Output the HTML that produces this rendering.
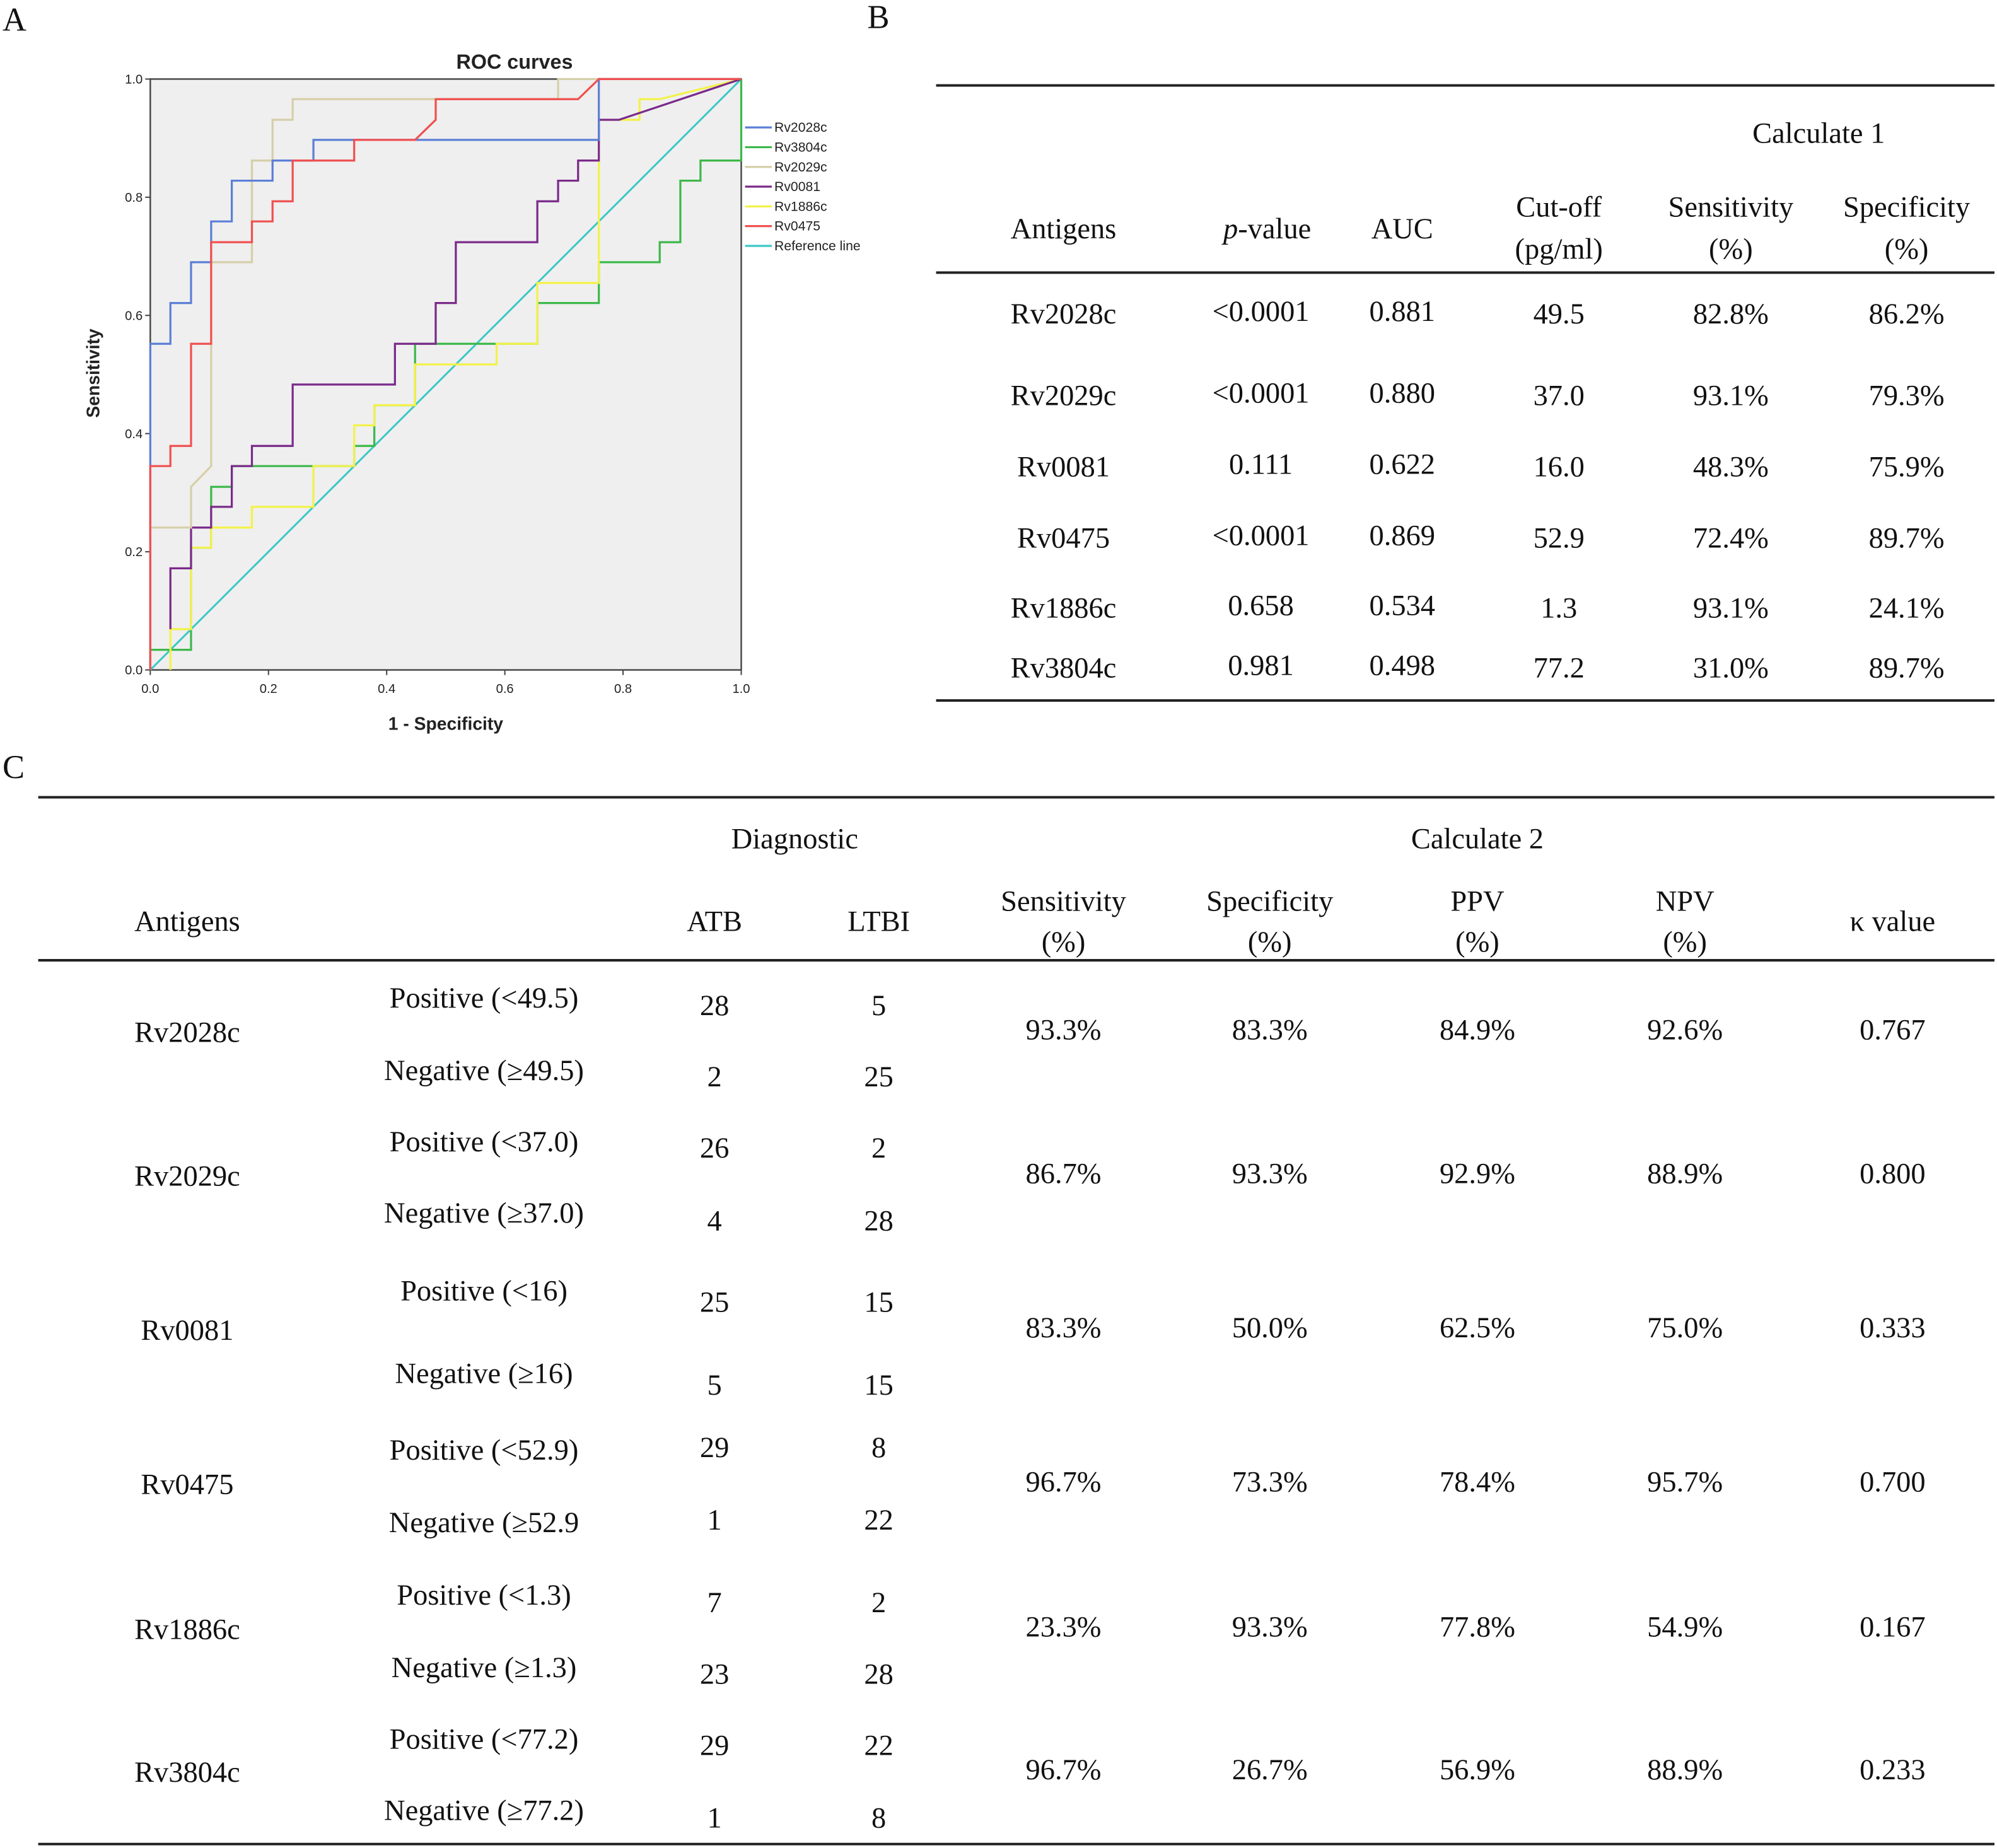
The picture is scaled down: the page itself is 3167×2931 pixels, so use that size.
<!DOCTYPE html>
<html><head><meta charset="utf-8">
<style>
html,body{margin:0;padding:0;background:#fff;}
svg{display:block;}
.t{font-family:"Liberation Serif",serif;font-size:23px;fill:#111;}
.s{font-family:"Liberation Sans",sans-serif;fill:#222;}
</style></head>
<body>
<svg id="fig" width="3167" height="2931" viewBox="0 0 1568 1451" xmlns="http://www.w3.org/2000/svg">
<rect width="1568" height="1451" fill="#fff"/>
<text class="t" x="2" y="24" style="font-size:26px">A</text>
<text class="t" x="681" y="22" style="font-size:26px">B</text>
<text class="t" x="2" y="611" style="font-size:26px">C</text>
<g id="chart"></g>
<g id="tables"></g>
</svg>
<script>
const seriesNames=["Rv2028c","Rv3804c","Rv2029c","Rv0081","Rv1886c","Rv0475"];
const seriesColors=["#5b7fd6","#3cb84a","#d6cfa8","#7a2a8a","#f2f24a","#f05050"];
const rv2028cX=[0,0,0.034,0.034,0.069,0.069,0.103,0.103,0.138,0.138,0.207,0.207,0.276,0.276,0.759,0.759,1];
const rv2028cY=[0,0.552,0.552,0.621,0.621,0.690,0.690,0.759,0.759,0.828,0.828,0.862,0.862,0.897,0.897,1,1];
const rv3804cX=[0,0,0.069,0.069,0.103,0.103,0.138,0.138,0.345,0.345,0.379,0.379,0.448,0.448,0.655,0.655,0.759,0.759,0.862,0.862,0.897,0.897,0.931,0.931,1,1];
const rv3804cY=[0,0.034,0.034,0.207,0.207,0.310,0.310,0.345,0.345,0.379,0.379,0.448,0.448,0.552,0.552,0.621,0.621,0.690,0.690,0.724,0.724,0.828,0.828,0.862,0.862,1];
const rv2029cX=[0,0.069,0.069,0.103,0.103,0.172,0.172,0.207,0.207,0.241,0.241,0.690,0.690,1];
const rv2029cY=[0.241,0.241,0.310,0.345,0.690,0.690,0.862,0.862,0.931,0.931,0.966,0.966,1,1];
const rv0081X=[0.034,0.034,0.069,0.069,0.103,0.103,0.138,0.138,0.172,0.172,0.241,0.241,0.414,0.414,0.483,0.483,0.517,0.517,0.655,0.655,0.690,0.690,0.724,0.724,0.759,0.759,0.793,1];
const rv0081Y=[0.069,0.172,0.172,0.241,0.241,0.276,0.276,0.345,0.345,0.379,0.379,0.483,0.483,0.552,0.552,0.621,0.621,0.724,0.724,0.793,0.793,0.828,0.828,0.862,0.862,0.931,0.931,1];
const rv1886cX=[0.034,0.034,0.069,0.069,0.103,0.103,0.172,0.172,0.276,0.276,0.345,0.345,0.379,0.379,0.448,0.448,0.586,0.586,0.655,0.655,0.759,0.759,0.828,0.828,0.862,1];
const rv1886cY=[0,0.069,0.069,0.207,0.207,0.241,0.241,0.276,0.276,0.345,0.345,0.414,0.414,0.448,0.448,0.517,0.517,0.552,0.552,0.655,0.655,0.931,0.931,0.966,0.966,1];
const rv0475X=[0,0,0.034,0.034,0.069,0.069,0.103,0.103,0.172,0.172,0.207,0.207,0.241,0.241,0.345,0.345,0.448,0.483,0.483,0.724,0.759,1];
const rv0475Y=[0,0.345,0.345,0.379,0.379,0.552,0.552,0.724,0.724,0.759,0.759,0.793,0.793,0.862,0.862,0.897,0.897,0.931,0.966,0.966,1,1];
const tickValues=[0,0.2,0.4,0.6,0.8,1.0];
const tickLabels=["0.0","0.2","0.4","0.6","0.8","1.0"];
const NS="http://www.w3.org/2000/svg";
const X0=118,X1=582,Y0=526,Y1=62;
const sx=v=>X0+v*(X1-X0), sy=v=>Y0-v*(Y0-Y1);
const chart=document.getElementById('chart');
function mk(tag,attrs,parent){const e=document.createElementNS(NS,tag);for(const k in attrs)e.setAttribute(k,attrs[k]);parent.appendChild(e);return e;}
let bg=mk('rect',{x:X0,y:Y1,width:X1-X0,height:Y0-Y1,fill:'#efefef',stroke:'#444','stroke-width':1.2},chart);


let title=mk('text',{x:404,y:54,'text-anchor':'middle',class:'s','font-size':16,'font-weight':'bold'},chart);title.textContent='ROC curves';


tickValues.forEach((v,i)=>{
 mk('line',{x1:X0-4,x2:X0,y1:sy(v),y2:sy(v),stroke:'#444'},chart);
 mk('line',{x1:sx(v),x2:sx(v),y1:Y0,y2:Y0+4,stroke:'#444'},chart);
 let t=mk('text',{x:X0-6,y:sy(v)+3.5,'text-anchor':'end',class:'s','font-size':10},chart);t.textContent=tickLabels[i];
 
 
 let u=mk('text',{x:sx(v),y:Y0+18,'text-anchor':'middle',class:'s','font-size':10},chart);u.textContent=tickLabels[i];
 
 
});
let xt=mk('text',{x:350,y:573,'text-anchor':'middle',class:'s','font-size':14,'font-weight':'bold'},chart);xt.textContent='1 - Specificity';


let yt=mk('text',{x:78,y:293,'text-anchor':'middle',class:'s','font-size':14,'font-weight':'bold',transform:'rotate(-90 78 293)'},chart);yt.textContent='Sensitivity';


let ref=mk('line',{x1:sx(0),y1:sy(0),x2:sx(1),y2:sy(1),stroke:'#3cc8c8','stroke-width':1.5},chart);


const allX=[rv2028cX,rv3804cX,rv2029cX,rv0081X,rv1886cX,rv0475X];
const allY=[rv2028cY,rv3804cY,rv2029cY,rv0081Y,rv1886cY,rv0475Y];
const drawOrder=[1,4,3,2,0,5];
drawOrder.forEach(i=>{
 const pts=allX[i].map((x,j)=>sx(x).toFixed(1)+','+sy(allY[i][j]).toFixed(1)).join(' ');
 let p=mk('polyline',{points:pts,fill:'none',stroke:seriesColors[i],'stroke-width':1.6},chart);
 
 
});
const legNames=seriesNames.concat(['Reference line']);
const legColors=seriesColors.concat(['#3cc8c8']);
legNames.forEach((n,i)=>{
 const y=100+i*15.5;
 mk('line',{x1:585,x2:606,y1:y,y2:y,stroke:legColors[i],'stroke-width':1.6},chart);
 let t=mk('text',{x:608,y:y+3.5,class:'s','font-size':10.5},chart);t.textContent=n;
 
 
});
// tables
const tb=document.getElementById('tables');
function txt(s,x,y,name,italicPrefix){
 let t=mk('text',{x:x,y:y,'text-anchor':'middle',class:'t'},tb);
 if(italicPrefix){let a=mk('tspan',{'font-style':'italic'},t);a.textContent=italicPrefix;let b=mk('tspan',{},t);b.textContent=s;}
 else t.textContent=s;
 
 
 return t;
}
function rule(x1,x2,y,w){let l=mk('line',{x1:x1,x2:x2,y1:y,y2:y,stroke:'#222','stroke-width':w||2},tb);
 
 }
// Table B
rule(735,1566,67);rule(735,1566,214);rule(735,1566,550);
txt('Calculate 1',1428,112,'calculate-1-header');
const bCols=[835,990,1101,1224,1359,1497];
txt('Antigens',835,187,'col-antigens');
txt('-value',995,187,'col-p-value','p');
txt('AUC',1101,187,'col-auc');
txt('Cut-off',1224,170,'col-cutoff');txt('(pg/ml)',1224,203,'col-cutoff-unit');
txt('Sensitivity',1359,170,'col-sensitivity');txt('(%)',1359,203,'col-sensitivity-unit');
txt('Specificity',1497,170,'col-specificity');txt('(%)',1497,203,'col-specificity-unit');
const bRows=[["Rv2028c","<0.0001","0.881","49.5","82.8%","86.2%"],["Rv2029c","<0.0001","0.880","37.0","93.1%","79.3%"],["Rv0081","0.111","0.622","16.0","48.3%","75.9%"],["Rv0475","<0.0001","0.869","52.9","72.4%","89.7%"],["Rv1886c","0.658","0.534","1.3","93.1%","24.1%"],["Rv3804c","0.981","0.498","77.2","31.0%","89.7%"]];
const bY=[254,318,374,430,485,532];
const bYoff=[0,-2,0,-2,0,0];
bRows.forEach((r,i)=>r.forEach((c,j)=>txt(c,bCols[j],bY[i]+((j==1||j==2)?-2:0),'table-b-cell')));
// Table C
rule(30,1566,626);rule(30,1566,754);rule(30,1566,1448);
txt('Diagnostic',624,666,'diagnostic-header');
txt('Calculate 2',1160,666,'calculate-2-header');
txt('Antigens',147,731,'col-antigens-c');
txt('ATB',561,731,'col-atb');txt('LTBI',690,731,'col-ltbi');
[['Sensitivity',835],['Specificity',997],['PPV',1160],['NPV',1323]].forEach(a=>{txt(a[0],a[1],715,'col-'+a[0].toLowerCase());txt('(%)',a[1],747,'col-unit');});
txt('κ value',1486,731,'col-kappa');
const cNames=["Rv2028c","Rv2029c","Rv0081","Rv0475","Rv1886c","Rv3804c"];
const cPos=["Positive (<49.5)","Positive (<37.0)","Positive (<16)","Positive (<52.9)","Positive (<1.3)","Positive (<77.2)"];
const cNeg=["Negative (≥49.5)","Negative (≥37.0)","Negative (≥16)","Negative (≥52.9","Negative (≥1.3)","Negative (≥77.2)"];
const cATB=[[28,2],[26,4],[25,5],[29,1],[7,23],[29,1]];
const cLTBI=[[5,25],[2,28],[15,15],[8,22],[2,28],[22,8]];
const cStats=[["93.3%","83.3%","84.9%","92.6%","0.767"],["86.7%","93.3%","92.9%","88.9%","0.800"],["83.3%","50.0%","62.5%","75.0%","0.333"],["96.7%","73.3%","78.4%","95.7%","0.700"],["23.3%","93.3%","77.8%","54.9%","0.167"],["96.7%","26.7%","56.9%","88.9%","0.233"]];
const midY=[818,931,1052,1173,1287,1399];
const labY=[[791,848],[904,960],[1021,1086],[1146,1203],[1260,1317],[1373,1429]];
const numY=[[797,853],[909,966],[1030,1095],[1144,1201],[1266,1322],[1378,1435]];
const sCols=[835,997,1160,1323,1486];
cNames.forEach((n,i)=>{
 txt(n,147,midY[i],'row-antigen');
 txt(cPos[i],380,labY[i][0],'row-positive-label');
 txt(cNeg[i],380,labY[i][1],'row-negative-label');
 txt(String(cATB[i][0]),561,numY[i][0],'cell-atb');txt(String(cATB[i][1]),561,numY[i][1],'cell-atb');
 txt(String(cLTBI[i][0]),690,numY[i][0],'cell-ltbi');txt(String(cLTBI[i][1]),690,numY[i][1],'cell-ltbi');
 cStats[i].forEach((s,j)=>txt(s,sCols[j],midY[i]-2,'cell-stat'));
});
</script>
</body></html>
